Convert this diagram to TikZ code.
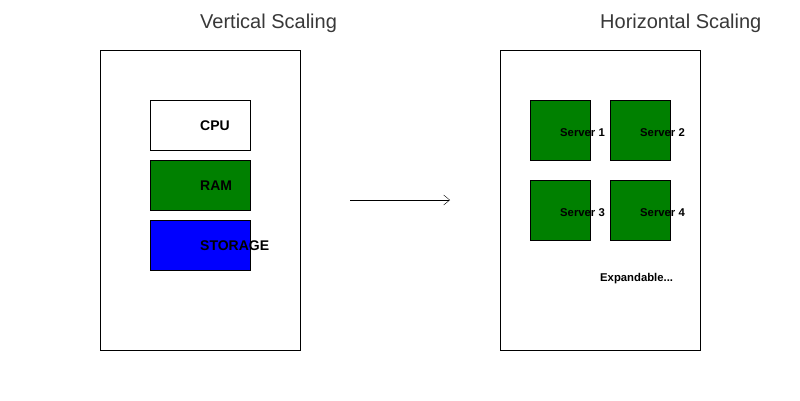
\documentclass[tikz,border=0pt]{standalone}
\usepackage{fontspec}
\setmainfont{Liberation Sans}
\usepackage{tikz}
\usetikzlibrary{positioning,arrows.meta}
\definecolor{srvgreen}{RGB}{0,128,0}

\begin{document}
\begin{tikzpicture}[x=1pt,y=-1pt,
    frame/.style={shape=rectangle, draw, minimum width=200pt, minimum height=300pt, inner sep=0pt},
    part/.style={shape=rectangle, draw, minimum width=100pt, minimum height=50pt, inner sep=0pt},
    server/.style={shape=rectangle, draw, fill=srvgreen, minimum size=60pt, inner sep=0pt},
    tag/.style={anchor=west, inner sep=0pt, yshift=-1pt, font=\fontsize{14}{16}\selectfont\bfseries},
    stag/.style={anchor=west, inner sep=0pt, yshift=-2.5pt, font=\fontsize{11.3}{13}\selectfont\bfseries},
    title/.style={anchor=west, inner sep=0pt, text=black!78, font=\fontsize{20}{24}\selectfont}]
    \useasboundingbox (0,0) rectangle (800,400);

    % vertical
    \node[frame] (vbox) at (200,200) {};
    \node[title] (vtitle) at (200,23) {Vertical Scaling};
    \node[part] (cpu) at (200,125) {};
    \node[part, fill=srvgreen] (ram) at (200,185) {};
    \node[part, fill=blue] (storage) at (200,245) {};
    \node[tag] (cpulbl) at (cpu.center) {CPU};
    \node[tag] (ramlbl) at (ram.center) {RAM};
    \node[tag] (storagelbl) at (storage.center) {STORAGE};

    % horizontal
    \node[frame] (hbox) at (600,200) {};
    \node[title] (htitle) at (600,23) {Horizontal Scaling};
    \node[server] (s1) at (560,130) {};
    \node[server] (s2) at (640,130) {};
    \node[server] (s3) at (560,210) {};
    \node[server] (s4) at (640,210) {};
    \node[stag] (s1lbl) at (s1.center) {Server 1};
    \node[stag] (s2lbl) at (s2.center) {Server 2};
    \node[stag] (s3lbl) at (s3.center) {Server 3};
    \node[stag] (s4lbl) at (s4.center) {Server 4};
    \node[stag] (more) at (600,276) {Expandable...};

    \coordinate (from) at (350,200);
    \coordinate (to) at (450,200);
    \draw[-{Straight Barb[length=6pt,width=10pt]}] (from) -- (to);
\end{tikzpicture}
\end{document}
